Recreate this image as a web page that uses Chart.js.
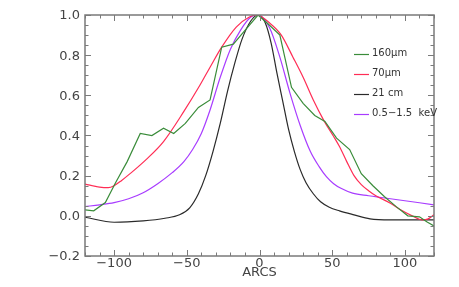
<!DOCTYPE html>
<html>
<head>
<meta charset="utf-8">
<script src="https://cdn.jsdelivr.net/npm/chart.js@4"></script>
<style>
  html, body { margin: 0; padding: 0; background: #ffffff; }
  #wrap { width: 459px; height: 287px; }
</style>
</head>
<body>
<div id="wrap"><canvas id="c" width="459" height="287"></canvas></div>
<script>
// ---- data ----
const seriesLabels = ['160\u00B5m', '70\u00B5m', '21 cm', '0.5\u22121.5  keV'];

const green160X = [-120, -114, -106, -99, -91, -82, -74, -66, -59, -51, -42, -34, -26, -18, -11, -1, 6, 14, 22, 30, 38, 45, 53, 62, 70, 78, 86, 94, 102, 110, 115, 120];
const green160Y = [0.03, 0.025, 0.066, 0.165, 0.27, 0.41, 0.40, 0.436, 0.41, 0.46, 0.54, 0.577, 0.84, 0.855, 0.915, 1.0, 0.955, 0.90, 0.64, 0.56, 0.50, 0.47, 0.387, 0.33, 0.21, 0.15, 0.095, 0.046, 0.0, -0.005, -0.03, -0.05];

const red70X = [-120, -110, -104, -100, -95, -89, -78, -66, -52, -41, -34, -26, -16, -7, -2, 7, 15, 23, 30, 37, 44, 51, 55, 60, 65, 70, 75, 80, 90, 97, 105, 112, 116, 120];
const red70Y = [0.158, 0.143, 0.14, 0.15, 0.175, 0.21, 0.28, 0.37, 0.52, 0.65, 0.74, 0.84, 0.94, 0.99, 1.0, 0.96, 0.90, 0.79, 0.69, 0.577, 0.478, 0.395, 0.345, 0.27, 0.2, 0.155, 0.125, 0.10, 0.063, 0.03, 0.0, -0.02, -0.015, 0.005];

const hi21X = [-120, -100, -80, -65, -55, -48, -42, -37, -32, -27, -22, -17, -12, -6, -1, 4, 8, 12, 16, 20, 24, 28, 32, 37, 42, 48, 55, 65, 76, 90, 120];
const hi21Y = [-0.007, -0.032, -0.025, -0.012, 0.005, 0.04, 0.11, 0.2, 0.32, 0.46, 0.62, 0.76, 0.88, 0.97, 1.0, 0.96, 0.86, 0.71, 0.57, 0.43, 0.32, 0.23, 0.165, 0.11, 0.07, 0.043, 0.025, 0.005, -0.015, -0.02, -0.02];

const xrayX = [-120, -110, -100, -90, -80, -70, -60, -52, -46, -40, -34, -27, -20, -13, -6, -1, 7, 14, 21, 28, 35, 41, 46, 51, 56, 64, 75, 85, 100, 120];
const xrayY = [0.046, 0.055, 0.066, 0.085, 0.115, 0.16, 0.215, 0.27, 0.33, 0.41, 0.527, 0.69, 0.83, 0.925, 0.99, 1.0, 0.935, 0.79, 0.61, 0.45, 0.32, 0.245, 0.195, 0.16, 0.137, 0.113, 0.10, 0.09, 0.075, 0.055];

const xTickValues = [-100, -50, 0, 50, 100];
const xTickLabels = ['\u2212100', '\u221250', '0', '50', '100'];
const yTickValues = [-0.2, 0.0, 0.2, 0.4, 0.6, 0.8, 1.0];
const yTickLabels = ['\u22120.2', '0.0', '0.2', '0.4', '0.6', '0.8', '1.0'];
const xAxisTitle = 'ARCS';

// ---- build ----
function pts(xs, ys) { return xs.map((x, i) => ({ x: x, y: ys[i] })); }

const colors = ['#3a8c3a', '#ff2d55', '#2a2a2a', '#a83cff'];
const datasets = [
  { label: seriesLabels[0], data: pts(green160X, green160Y), borderColor: colors[0], tension: 0 },
  { label: seriesLabels[1], data: pts(red70X, red70Y), borderColor: colors[1], cubicInterpolationMode: 'monotone' },
  { label: seriesLabels[2], data: pts(hi21X, hi21Y), borderColor: colors[2], cubicInterpolationMode: 'monotone' },
  { label: seriesLabels[3], data: pts(xrayX, xrayY), borderColor: colors[3], cubicInterpolationMode: 'monotone' }
].map(d => Object.assign({ borderWidth: 1.2, pointRadius: 0, fill: false }, d));

const FONT = '13px "DejaVu Sans", sans-serif';
const TXT = '#444';

const idlAxes = {
  id: 'idlAxes',
  afterDraw(chart) {
    const ctx = chart.ctx;
    const a = chart.chartArea;
    const xs = chart.scales.x, ys = chart.scales.y;
    ctx.save();
    ctx.strokeStyle = '#7a7a7a';
    ctx.lineWidth = 1.5;
    ctx.strokeRect(a.left, a.top, a.right - a.left, a.bottom - a.top);
    ctx.lineWidth = 1;
    ctx.beginPath();
    for (let i = -4; i <= 20; i++) {
      const y = Math.round(ys.getPixelForValue(i * 0.05)) + 0.5;
      const len = (i % 4 === 0) ? 6 : 3.5;
      ctx.moveTo(a.left, y); ctx.lineTo(a.left + len, y);
      ctx.moveTo(a.right, y); ctx.lineTo(a.right - len, y);
    }
    for (let v = -120; v <= 120; v += 10) {
      const x = Math.round(xs.getPixelForValue(v)) + 0.5;
      const len = (v % 50 === 0) ? 6 : 3.5;
      ctx.moveTo(x, a.bottom); ctx.lineTo(x, a.bottom - len);
      ctx.moveTo(x, a.top); ctx.lineTo(x, a.top + len);
    }
    ctx.stroke();
    ctx.fillStyle = TXT;
    ctx.font = FONT;
    ctx.textAlign = 'right';
    ctx.textBaseline = 'middle';
    yTickValues.forEach((v, i) => {
      ctx.fillText(yTickLabels[i], a.left - 5, ys.getPixelForValue(v) + 1);
    });
    ctx.textAlign = 'center';
    xTickValues.forEach((v, i) => {
      ctx.fillText(xTickLabels[i], xs.getPixelForValue(v), a.bottom + 8);
    });
    ctx.fillText(xAxisTitle, xs.getPixelForValue(0), a.bottom + 17);
    ctx.font = '10px "DejaVu Sans", sans-serif';
    ctx.textAlign = 'left';
    ctx.fillStyle = '#333';
    chart.data.datasets.forEach((d, i) => {
      const y = 54 + i * 20;
      ctx.strokeStyle = d.borderColor;
      ctx.lineWidth = 1.2;
      ctx.beginPath();
      ctx.moveTo(354, y + 0.5); ctx.lineTo(369, y + 0.5);
      ctx.stroke();
      ctx.fillText(d.label, 372, y - 1);
    });
    ctx.restore();
  }
};

new Chart(document.getElementById('c'), {
  type: 'line',
  data: { datasets: datasets },
  options: {
    responsive: false,
    devicePixelRatio: 1,
    animation: false,
    layout: { padding: { left: 85, right: 25, top: 15, bottom: 31 } },
    plugins: { legend: { display: false }, tooltip: { enabled: false } },
    scales: {
      x: { type: 'linear', min: -120, max: 120, display: false },
      y: { type: 'linear', min: -0.2, max: 1.0, display: false }
    }
  },
  plugins: [idlAxes]
});
</script>
</body>
</html>
